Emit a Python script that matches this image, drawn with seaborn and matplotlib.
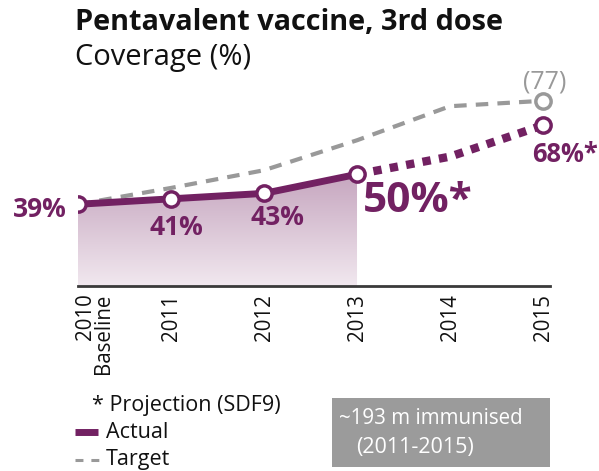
import numpy as np
import pandas as pd
import matplotlib
matplotlib.use("Agg")
import matplotlib.pyplot as plt
import seaborn as sns
from matplotlib.patches import Polygon, Rectangle
from matplotlib.lines import Line2D
from matplotlib.colors import LinearSegmentedColormap
from matplotlib.transforms import ScaledTranslation

years = [2010, 2011, 2012, 2013, 2014, 2015]
year_labels = ["2010\nBaseline", "2011", "2012", "2013", "2014", "2015"]
actual_years = [2010, 2011, 2012, 2013]
actual_values = [39, 41, 43, 50]
projection_years = [2013, 2014, 2015]
projection_values = [50, 56.5, 68]
target_values = [39, 45, 51.5, 62.5, 75, 77]
actual_labels = ["39%", "41%", "43%", "50%*"]
projection_label = "68%*"
target_label = "(77)"

PURPLE = "#722162"
GRAY = "#999999"

sns.set_theme(style="white")
plt.rcParams['font.family'] = ['Open Sans', 'DejaVu Sans']

W, H = 599, 471
fig = plt.figure(figsize=(W / 100, H / 100), dpi=100)

def fx(px):
    return px / W

def fy(py):
    return 1 - py / H

ax_left, ax_right, ax_bottom, ax_top = 78, 550, 286, 92.6
ax = fig.add_axes([fx(ax_left), fy(ax_bottom), fx(ax_right - ax_left), (ax_bottom - ax_top) / H])
ax.set_xlim(2010, 2015.075)
ax.set_ylim(9, 80)
ax.patch.set_alpha(0)

target_df = pd.DataFrame({"year": years, "value": target_values})
actual_df = pd.DataFrame({"year": actual_years, "value": actual_values})
proj_df = pd.DataFrame({"year": projection_years, "value": projection_values})

# gradient fill under actual
grad = np.linspace(0, 1, 256).reshape(-1, 1)
cmap = LinearSegmentedColormap.from_list("g", ["#f1e8ef", "#c6a6bf"])
im = ax.imshow(grad, extent=[2010, 2013, 9, 50], origin="lower", cmap=cmap,
               aspect="auto", zorder=1)
poly_pts = [(2010, 9)] + list(zip(actual_years, actual_values)) + [(2013, 9)]
poly = Polygon(poly_pts, closed=True, transform=ax.transData, facecolor="none", edgecolor="none")
ax.add_patch(poly)
im.set_clip_path(poly)

sns.lineplot(data=target_df, x="year", y="value", ax=ax, color=GRAY, lw=3,
             linestyle=(0, (3, 2.2)), zorder=2)
sns.lineplot(data=proj_df, x="year", y="value", ax=ax, color=PURPLE, lw=6,
             linestyle=(0, (1.0, 1.0)), zorder=3)
sns.lineplot(data=actual_df, x="year", y="value", ax=ax, color=PURPLE, lw=5,
             zorder=4, solid_capstyle="butt")

mk = dict(marker="o", markersize=11, markerfacecolor="white", markeredgewidth=2.5, linestyle="none")
ax.plot(actual_years, actual_values, markeredgecolor=PURPLE, zorder=5, **mk)
ax.plot([2015], [projection_values[-1]], markeredgecolor=PURPLE, zorder=5, clip_on=False, **mk)
ax.plot([2015], [target_values[-1]], markeredgecolor=GRAY, zorder=5, clip_on=False, **mk)

sns.despine(ax=ax, left=True, top=True, right=True)
ax.spines["bottom"].set_color("#3a3a3a")
ax.spines["bottom"].set_linewidth(2)
ax.set_yticks([])
ax.set_xticks(years)
ax.set_xticklabels(year_labels, rotation=90, fontsize=14.8, va="top", ha="center",
                   linespacing=0.8, color="#111111")
ax.tick_params(axis="x", length=0, pad=5.5)
first = ax.get_xticklabels()[0]
first.set_ha("left")
first.set_multialignment("right")
first.set_transform(first.get_transform() + ScaledTranslation(-3 / 100, 0, fig.dpi_scale_trans))
ax.set_xlabel("")
ax.set_ylabel("")

# data labels
lbl = dict(color=PURPLE, fontweight="bold", va="center", clip_on=False)
ax.text(2009.88, 37.2, actual_labels[0], fontsize=19, ha="right", **lbl)
ax.text(2011.06, 30.6, actual_labels[1], fontsize=19, ha="center", **lbl)
ax.text(2012.14, 34.0, actual_labels[2], fontsize=19, ha="center", **lbl)
ax.text(2013.06, 40.1, actual_labels[3], fontsize=30.5, ha="left", **lbl)
ax.text(2015.24, 57.4, projection_label, fontsize=18.4, ha="center", **lbl)
ax.text(2015.02, 83.8, target_label, color=GRAY, fontsize=18, ha="center", va="center",
        clip_on=False)

# titles
fig.text(fx(75), fy(22), "Pentavalent vaccine, 3rd dose", fontsize=20.8, fontweight="bold",
         ha="left", va="center", color="#111111")
fig.text(fx(75), fy(57), "Coverage (%)", fontsize=21, ha="left", va="center", color="#111111")

# legend
fs_leg = 15.5
fig.text(fx(92), fy(406), "* Projection (SDF9)", fontsize=fs_leg, ha="left", va="center", color="#111111")
fig.add_artist(Line2D([fx(75), fx(98)], [fy(432), fy(432)], color=PURPLE, lw=5,
                      solid_capstyle="butt", transform=fig.transFigure))
fig.text(fx(106), fy(432), "Actual", fontsize=fs_leg, ha="left", va="center", color="#111111")
fig.add_artist(Line2D([fx(75), fx(99)], [fy(460), fy(460)], color=GRAY, lw=2.2,
                      linestyle=(0, (2.6, 2.6)), transform=fig.transFigure))
fig.text(fx(106), fy(460), "Target", fontsize=fs_leg, ha="left", va="center", color="#111111")

fig.add_artist(Rectangle((fx(332), fy(467)), fx(550 - 332), (467 - 398) / H,
                         facecolor="#9b9b9b", edgecolor="none", transform=fig.transFigure))
fig.text(fx(339), fy(419), "~193 m immunised", fontsize=14.8, ha="left", va="center", color="white")
fig.text(fx(356), fy(448), "(2011-2015)", fontsize=15.5, ha="left", va="center", color="white")

fig.savefig("out.png", dpi=100)
